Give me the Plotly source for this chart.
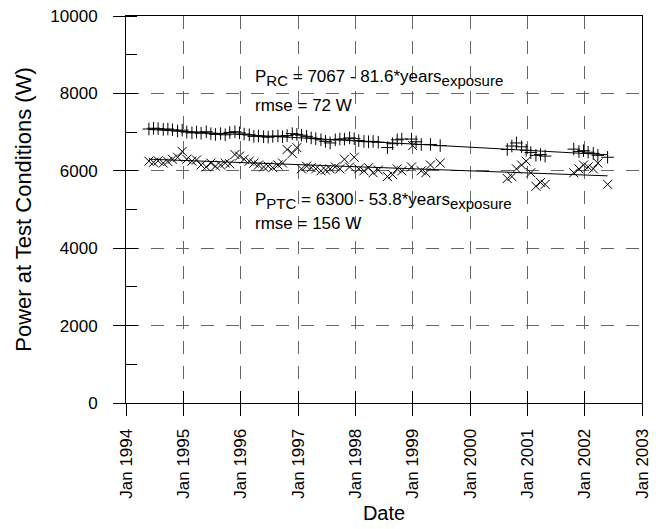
import plotly.graph_objects as go

# ---- data (decimal years, W) ----
rc_years = [1994.40, 1994.48, 1994.56, 1994.65, 1994.73, 1994.81, 1994.90, 1994.98,
            1995.06, 1995.15, 1995.23, 1995.31, 1995.40, 1995.48, 1995.56, 1995.65,
            1995.73, 1995.81, 1995.90, 1995.98, 1996.06, 1996.15, 1996.23, 1996.31,
            1996.40, 1996.48, 1996.56, 1996.65, 1996.73, 1996.81, 1996.90, 1996.98,
            1997.06, 1997.15, 1997.23, 1997.31, 1997.40, 1997.48, 1997.56, 1997.65,
            1997.73, 1997.81, 1997.90, 1997.98, 1998.06, 1998.15, 1998.23, 1998.31,
            1998.40, 1998.56, 1998.65, 1998.73, 1998.81, 1998.98, 1999.06, 1999.15,
            1999.31, 1999.48, 2000.65, 2000.73, 2000.81, 2000.90, 2000.98, 2001.06,
            2001.15, 2001.23, 2001.31, 2001.81, 2001.90, 2001.98, 2002.06, 2002.15,
            2002.23, 2002.40]
rc_power = [7080, 7100, 7090, 7070, 7080, 7060, 7030, 7050,
            7000, 6980, 7000, 6970, 7010, 6960, 6940, 6960,
            6930, 6990, 7010, 6980, 6950, 6930, 6890, 6900,
            6880, 6870, 6890, 6900, 6880, 6910, 6960, 6940,
            6920, 6890, 6850, 6830, 6800, 6760, 6720, 6800,
            6820, 6820, 6850, 6830, 6780, 6760, 6750, 6760,
            6740, 6600, 6700, 6800, 6820, 6820, 6750, 6680,
            6680, 6650, 6550, 6640, 6720, 6620, 6530, 6470,
            6400, 6420, 6380, 6560, 6500, 6520, 6480, 6450,
            6400, 6350]

ptc_years = [1994.40, 1994.48, 1994.56, 1994.65, 1994.73, 1994.81, 1994.90, 1994.98,
             1995.06, 1995.15, 1995.23, 1995.31, 1995.40, 1995.48, 1995.56, 1995.65,
             1995.73, 1995.81, 1995.90, 1995.98, 1996.06, 1996.15, 1996.23, 1996.31,
             1996.40, 1996.48, 1996.56, 1996.65, 1996.73, 1996.81, 1996.90, 1996.98,
             1997.06, 1997.15, 1997.23, 1997.31, 1997.40, 1997.48, 1997.56, 1997.65,
             1997.73, 1997.81, 1997.90, 1997.98, 1998.06, 1998.15, 1998.23, 1998.31,
             1998.40, 1998.56, 1998.65, 1998.73, 1998.81, 1998.98, 1999.00, 1999.15,
             1999.23, 1999.31, 1999.48, 2000.65, 2000.73, 2000.81, 2000.90, 2000.98,
             2001.06, 2001.15, 2001.23, 2001.31, 2001.81, 2001.90, 2001.98, 2002.06,
             2002.15, 2002.23, 2002.40]
ptc_power = [6250, 6220, 6260, 6200, 6240, 6300, 6350, 6500,
             6300, 6250, 6280, 6150, 6100, 6200, 6120, 6150,
             6200, 6180, 6420, 6380, 6300, 6250, 6200, 6150,
             6100, 6120, 6080, 6150, 6200, 6550, 6450, 6600,
             6050, 6120, 6080, 6050, 6000, 6020, 6050, 6100,
             6050, 6300, 6100, 6350, 6050, 6000, 6080, 5950,
             6020, 5850, 5900, 6050, 6000, 6100, 6650, 6000,
             5950, 6150, 6200, 5800, 5850, 6050, 6150, 6250,
             5950, 5600, 5700, 5650, 5950, 6050, 6150, 6100,
             6050, 6200, 5650]

# fitted lines: P = a - b * years_exposure
exposure_start = 1994.40
fit_end = 2002.40
rc_fit = (7067, 81.6)
ptc_fit = (6300, 53.8)

year_ticks = list(range(1994, 2004))
year_labels = [f"Jan {y}" for y in year_ticks]
power_ticks = [0, 2000, 4000, 6000, 8000, 10000]
power_labels = [str(v) for v in power_ticks]

FONT = "Liberation Sans, Arial, sans-serif"

fig = go.Figure()

fig.add_trace(go.Scatter(
    x=rc_years, y=rc_power, mode="markers",
    marker=dict(symbol="cross-thin", size=9, color="black",
                line=dict(color="black", width=1)),
    showlegend=False))
fig.add_trace(go.Scatter(
    x=ptc_years, y=ptc_power, mode="markers",
    marker=dict(symbol="x-thin", size=9, color="black",
                line=dict(color="black", width=1)),
    showlegend=False))

for a, b in (rc_fit, ptc_fit):
    xs = [exposure_start, fit_end]
    ys = [a - b * (x - exposure_start) for x in xs]
    fig.add_trace(go.Scatter(x=xs, y=ys, mode="lines",
                             line=dict(color="black", width=1),
                             showlegend=False))

# invisible trace for overlay axes (inside ticks)
fig.add_trace(go.Scatter(x=[1994], y=[0], xaxis="x2", yaxis="y2",
                         mode="markers", marker=dict(opacity=0),
                         showlegend=False, hoverinfo="skip"))

grid_color = "#666666"
fig.update_layout(
    width=661, height=529,
    margin=dict(l=126, r=19, t=16, b=126),
    plot_bgcolor="white", paper_bgcolor="white",
    font=dict(family=FONT, size=17, color="black"),
    xaxis=dict(
        range=[1994, 2003], tickvals=year_ticks, ticktext=year_labels,
        tickangle=-90, ticks="outside", ticklen=12, tickcolor="black",
        ticklabelstandoff=6, automargin=False,
        showline=True, linecolor="black", linewidth=1, mirror=True,
        showgrid=True, gridcolor=grid_color, griddash="13px,12px", gridwidth=1,
        zeroline=False, tickfont=dict(size=17),
        title=dict(text="Date", font=dict(size=20), standoff=8),
    ),
    yaxis=dict(
        range=[0, 10000], tickvals=power_ticks, ticktext=power_labels,
        ticks="outside", ticklen=12, tickcolor="black",
        ticklabelstandoff=12, automargin=False,
        minor=dict(ticks="inside", ticklen=11, dtick=1000, tick0=0,
                   tickcolor="black", showgrid=False),
        showline=True, linecolor="black", linewidth=1, mirror=True,
        showgrid=True, gridcolor=grid_color, griddash="13px,12px", gridwidth=1,
        zeroline=False, tickfont=dict(size=17),
        title=dict(text="Power at Test Conditions (W)", font=dict(size=22), standoff=12),
    ),
    xaxis2=dict(overlaying="x", range=[1994, 2003], tickvals=year_ticks,
                ticks="inside", ticklen=12, tickcolor="black",
                showticklabels=False, showgrid=False, showline=False,
                zeroline=False, anchor="y2", side="bottom", automargin=False),
    yaxis2=dict(overlaying="y", range=[0, 10000], tickvals=power_ticks,
                ticks="inside", ticklen=12, tickcolor="black",
                showticklabels=False, showgrid=False, showline=False,
                zeroline=False, anchor="x2", side="left", automargin=False),
)

SUB = '<sub><span style="font-size:15px">{}</span></sub>'
ann_font = dict(family=FONT, size=17, color="black")
annotations = [
    (1996.22, 8050, "P" + SUB.format("RC") + " = 7067 - 81.6*years" + SUB.format("exposure")),
    (1996.22, 7400, "rmse = 72 W"),
    (1996.22, 4880, "P" + SUB.format("PTC") + " = 6300 - 53.8*years" + SUB.format("exposure")),
    (1996.22, 4330, "rmse = 156 W"),
]
for x, y, t in annotations:
    fig.add_annotation(x=x, y=y, text=t, showarrow=False, xanchor="left",
                       yanchor="bottom", font=ann_font, align="left")

fig.write_html("out.html")
